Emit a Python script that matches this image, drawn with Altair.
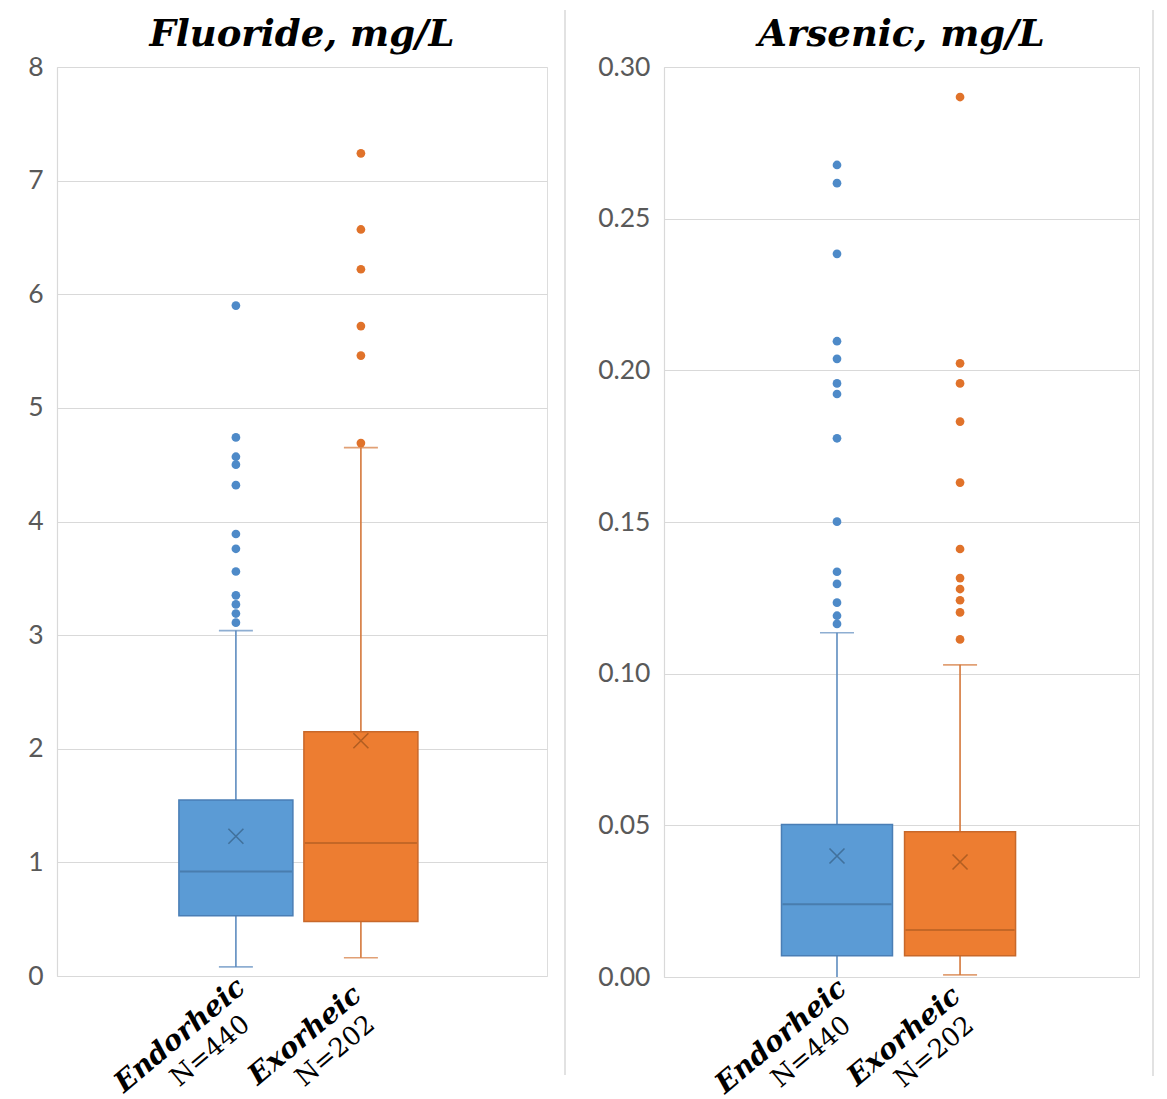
import altair as alt
import pandas as pd

groups = ["Endorheic", "Exorheic"]
n_labels = ["N=440", "N=202"]

# Fluoride, mg/L
f_min = [0.08, 0.16]
f_q1 = [0.53, 0.48]
f_median = [0.92, 1.17]
f_q3 = [1.55, 2.15]
f_max = [3.04, 4.65]
f_mean = [1.23, 2.07]
f_out_endo = [5.90, 4.74, 4.57, 4.50, 4.32, 3.89, 3.76, 3.56, 3.35, 3.27, 3.19, 3.11]
f_out_exo = [7.24, 6.57, 6.22, 5.72, 5.46, 4.69]
f_ticks = [0, 1, 2, 3, 4, 5, 6, 7, 8]

# Arsenic, mg/L
a_min = [0.0, 0.0007]
a_q1 = [0.0070, 0.0070]
a_median = [0.0240, 0.0155]
a_q3 = [0.0503, 0.0479]
a_max = [0.1135, 0.1029]
a_mean = [0.0399, 0.0379]
a_out_endo = [0.2677, 0.2617, 0.2384, 0.2096, 0.2038, 0.1957, 0.1922, 0.1776,
              0.1501, 0.1336, 0.1296, 0.1234, 0.1191, 0.1164]
a_out_exo = [0.2901, 0.2023, 0.1957, 0.1831, 0.1630, 0.1411, 0.1315, 0.1279,
             0.1242, 0.1202, 0.1113]
a_ticks = [0.0, 0.05, 0.10, 0.15, 0.20, 0.25, 0.30]

# styles
FILL = {"Endorheic": "#5B9BD5", "Exorheic": "#ED7D31"}
EDGE = {"Endorheic": "#4A7EB5", "Exorheic": "#C8682A"}
MID = {"Endorheic": "#41719C", "Exorheic": "#B25E22"}
WHISK = {"Endorheic": "#5E8CBF", "Exorheic": "#D4773A"}
DOT = {"Endorheic": "#4E8AC8", "Exorheic": "#E0722A"}
GRID = "#D9D9D9"


def panel(title, mins, q1, med, q3, maxs, means, out_e, out_x, ticks, fmt, w, h,
          sep_x, pad_outer, align, box_w):
    stats = pd.DataFrame({
        "group": groups, "n": n_labels, "min": mins, "q1": q1, "median": med,
        "q3": q3, "max": maxs, "mean": means,
    })
    for name, d in [("fill", FILL), ("edge", EDGE), ("mid", MID), ("whisk", WHISK)]:
        stats[name] = stats["group"].map(d)
    caps = pd.DataFrame({
        "group": groups * 2, "value": list(mins) + list(maxs),
    })
    caps = caps[caps["value"] > 0].copy()
    caps["whisk"] = caps["group"].map(WHISK)
    outs = pd.DataFrame({
        "group": ["Endorheic"] * len(out_e) + ["Exorheic"] * len(out_x),
        "value": list(out_e) + list(out_x),
    })
    outs["dot"] = outs["group"].map(DOT)

    xenc = alt.X("group:N", scale=alt.Scale(domain=groups, type="band", paddingInner=0,
                                            paddingOuter=pad_outer, align=align), axis=None)
    yscale = alt.Scale(domain=[ticks[0], ticks[-1]], nice=False, zero=True)
    yaxis = alt.Axis(values=ticks, format=fmt, grid=True, ticks=False, domain=True,
                     domainColor=GRID, gridColor=GRID, gridWidth=1.2, domainWidth=1.2,
                     labelFont="Lato", labelFontSize=26.5, labelColor="#595959",
                     labelPadding=14, title=None)

    base = alt.Chart(stats)
    whisker = base.mark_rule(strokeWidth=1.6).encode(
        x=xenc, y=alt.Y("min:Q", scale=yscale, axis=yaxis), y2="max:Q",
        color=alt.Color("whisk:N", scale=None))
    cap = alt.Chart(caps).mark_tick(size=34, thickness=1.6).encode(
        x=xenc, y=alt.Y("value:Q", scale=yscale, axis=yaxis),
        color=alt.Color("whisk:N", scale=None))
    box = base.mark_bar(size=box_w, strokeWidth=1.5).encode(
        x=xenc, y=alt.Y("q1:Q", scale=yscale, axis=yaxis), y2="q3:Q",
        fill=alt.Fill("fill:N", scale=None), stroke=alt.Stroke("edge:N", scale=None))
    median = base.mark_tick(size=box_w - 2, thickness=2).encode(
        x=xenc, y=alt.Y("median:Q", scale=yscale, axis=yaxis),
        color=alt.Color("mid:N", scale=None))
    mean = base.mark_point(shape="M-1,-1L1,1M-1,1L1,-1", size=225, strokeWidth=1.6,
                           filled=False, opacity=1).encode(
        x=xenc, y=alt.Y("mean:Q", scale=yscale, axis=yaxis),
        color=alt.Color("mid:N", scale=None))
    dots = alt.Chart(outs).mark_circle(size=76, opacity=1).encode(
        x=xenc, y=alt.Y("value:Q", scale=yscale, axis=yaxis),
        color=alt.Color("dot:N", scale=None))
    lab1 = base.mark_text(angle=320, font="DejaVu Serif", fontStyle="italic", fontWeight="bold",
                          fontSize=28, align="center", baseline="middle", dx=-81, dy=10,
                          color="black").encode(x=xenc, y=alt.value(h), text="group:N")
    lab2 = base.mark_text(angle=320, font="DejaVu Serif", fontSize=26, align="center",
                          baseline="middle", dx=-68, dy=41,
                          color="black").encode(x=xenc, y=alt.value(h), text="n:N")
    sep = alt.Chart(pd.DataFrame({"k": [0]})).mark_rule(color=GRID, strokeWidth=1.5).encode(
        x=alt.value(sep_x), y=alt.value(-57), y2=alt.value(h + 99))

    return alt.layer(whisker, cap, box, median, mean, dots, lab1, lab2, sep).properties(
        width=w, height=h,
        title=alt.TitleParams(title, font="DejaVu Serif", fontSize=37, fontStyle="italic",
                              fontWeight="bold", color="black", anchor="middle",
                              frame="group", offset=-45),
    )


left = panel("Fluoride, mg/L", f_min, f_q1, f_median, f_q3, f_max, f_mean,
             f_out_endo, f_out_exo, f_ticks, "d", 490, 909, 508, 0.96, 0.485, 114)
right = panel("Arsenic, mg/L", a_min, a_q1, a_median, a_q3, a_max, a_mean,
              a_out_endo, a_out_exo, a_ticks, ".2f", 475, 910, 489, 0.93, 0.487, 111)

chart = alt.hconcat(left, right, spacing=117, bounds="flush").properties(
    padding={"left": 19, "top": 0, "right": 0, "bottom": 0}
).configure_view(strokeWidth=0, stroke="transparent").configure(background="white")

chart.save("out.html", embed_options={"renderer": "svg", "actions": False})
